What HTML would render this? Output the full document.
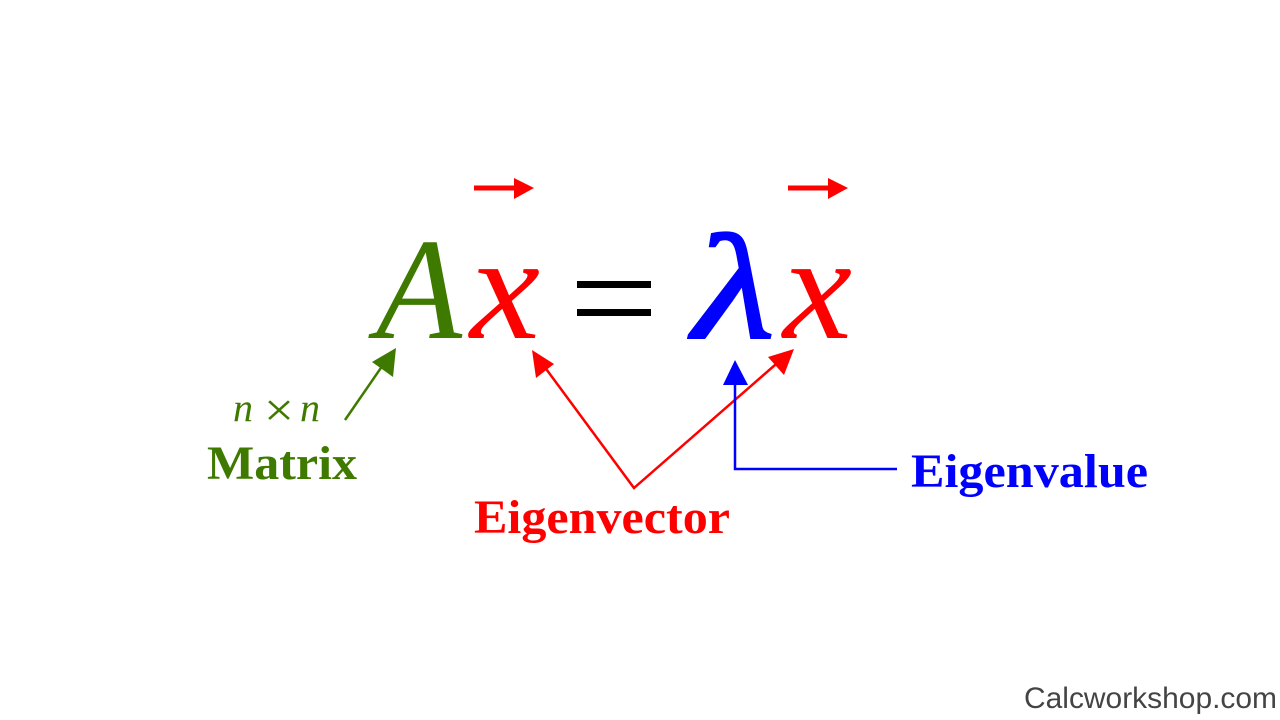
<!DOCTYPE html>
<html><head><meta charset="utf-8"><style>body{margin:0;background:#fff}svg{display:block}</style></head><body>
<svg width="1280" height="720" viewBox="0 0 1280 720" xmlns="http://www.w3.org/2000/svg">
<rect width="1280" height="720" fill="#fff"/>
<g font-family="Liberation Serif, serif" font-style="italic">
<text x="376" y="338" font-size="145" fill="#3f7a00" textLength="86" lengthAdjust="spacingAndGlyphs">A</text>
<text x="470" y="338" font-size="150" fill="#ff0000" textLength="70" lengthAdjust="spacingAndGlyphs">x</text>
<text x="693" y="338" font-size="150" fill="#0000ff" stroke="#0000ff" stroke-width="2" textLength="82" lengthAdjust="spacingAndGlyphs">λ</text>
<text x="783" y="338" font-size="150" fill="#ff0000" textLength="69" lengthAdjust="spacingAndGlyphs">x</text>
</g>
<rect x="577" y="281" width="74" height="7" fill="#000"/>
<rect x="577" y="309" width="74" height="7" fill="#000"/>
<rect x="474" y="185.5" width="44" height="5" fill="#f00"/>
<polygon points="514,178 534,188 514,199" fill="#f00"/>
<rect x="788" y="185.5" width="44" height="5" fill="#f00"/>
<polygon points="828,178 848,188 828,199" fill="#f00"/>
<line x1="345" y1="420" x2="385" y2="362" stroke="#3f7a00" stroke-width="2.5"/>
<polygon points="396,348 393,377 372,362" fill="#3f7a00"/>
<text x="233" y="421" font-family="Liberation Serif, serif" font-style="italic" font-size="40" fill="#3f7a00">n</text>
<text x="264" y="426" font-family="Liberation Serif, serif" font-size="48" fill="#3f7a00" textLength="30" lengthAdjust="spacingAndGlyphs">×</text>
<text x="300" y="421" font-family="Liberation Serif, serif" font-style="italic" font-size="40" fill="#3f7a00">n</text>
<text x="207" y="479" font-family="Liberation Serif, serif" font-weight="bold" font-size="48" fill="#3f7a00" textLength="150" lengthAdjust="spacingAndGlyphs">Matrix</text>
<polyline points="541,362 634,488 783,358" fill="none" stroke="#f00" stroke-width="2.5"/>
<polygon points="532,350 554,364 536,378" fill="#f00"/>
<polygon points="794,349 784,375 768,357" fill="#f00"/>
<text x="474" y="533" font-family="Liberation Serif, serif" font-weight="bold" font-size="48" fill="#f00" textLength="256" lengthAdjust="spacingAndGlyphs">Eigenvector</text>
<polyline points="735,382 735,469 897,469" fill="none" stroke="#00f" stroke-width="2.5"/>
<polygon points="735,360 723,385 748,385" fill="#00f"/>
<text x="911" y="487" font-family="Liberation Serif, serif" font-weight="bold" font-size="48" fill="#00f" textLength="237" lengthAdjust="spacingAndGlyphs">Eigenvalue</text>
<text x="1024" y="708" font-family="Liberation Sans, sans-serif" font-size="30" fill="#444" textLength="253" lengthAdjust="spacingAndGlyphs">Calcworkshop.com</text>
</svg>
</body></html>
